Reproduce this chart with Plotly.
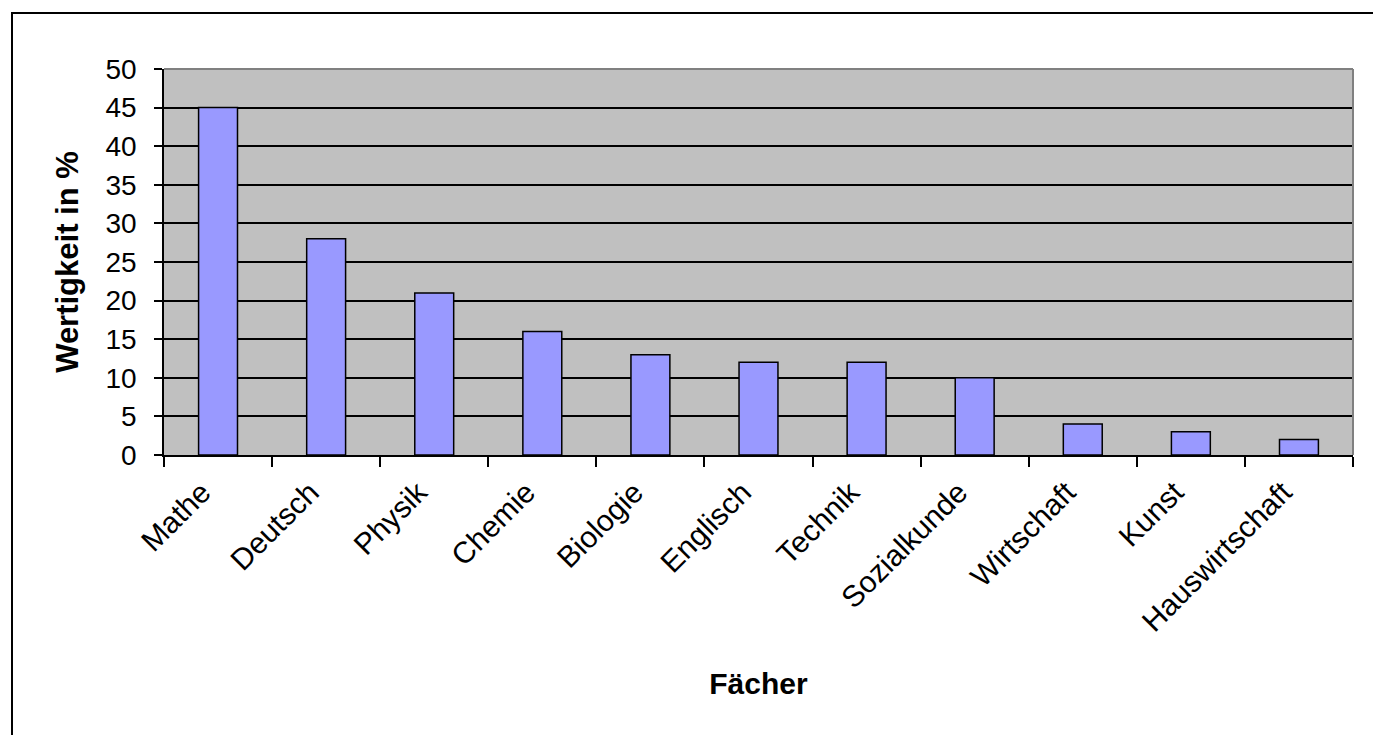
import plotly.graph_objects as go

faecher = ["Mathe", "Deutsch", "Physik", "Chemie", "Biologie", "Englisch",
           "Technik", "Sozialkunde", "Wirtschaft", "Kunst", "Hauswirtschaft"]
wertigkeit = [45, 28, 21, 16, 13, 12, 12, 10, 4, 3, 2]
y_ticks = [0, 5, 10, 15, 20, 25, 30, 35, 40, 45, 50]

W, H = 1373, 735
left, right, top, bottom = 164, 20, 69, 280
pw = W - left - right
ph = H - top - bottom

def px_x(p):
    return (p - left) / pw

def px_y(p):
    return (H - bottom - p) / ph

fig = go.Figure(go.Bar(
    x=faecher,
    y=wertigkeit,
    marker=dict(color="#9999ff", line=dict(color="#000000", width=1.5)),
))

fig.update_layout(
    width=W, height=H,
    margin=dict(l=left, r=right, t=top, b=bottom),
    paper_bgcolor="#ffffff",
    plot_bgcolor="#c0c0c0",
    bargap=0.64,
    showlegend=False,
    font=dict(family="Liberation Sans, Arial, sans-serif", color="#000000"),
    xaxis=dict(
        type="category",
        tickson="boundaries",
        ticks="outside", ticklen=10, tickwidth=1.5, tickcolor="#000000",
        tickangle=-45,
        tickfont=dict(size=30),
        ticklabelstandoff=6,
        ticklabelshift=-16,
        showline=True, linecolor="#000000", linewidth=1.5,
        showgrid=False,
        title=dict(text="<b>Fächer</b>", font=dict(size=30), standoff=36),
    ),
    yaxis=dict(
        range=[0, 50],
        tickvals=y_ticks,
        ticks="outside", ticklen=8, tickwidth=1.5, tickcolor="#000000",
        tickfont=dict(size=28),
        ticklabelstandoff=12,
        showline=True, linecolor="#000000", linewidth=1.5,
        showgrid=True, gridcolor="#000000", gridwidth=1.5,
        zeroline=False,
        title=dict(text="<b>Wertigkeit in %</b>", font=dict(size=31), standoff=18),
    ),
    shapes=[
        # gray top and right edges of the plot area
        dict(type="line", xref="paper", yref="paper", x0=0, x1=1, y0=1, y1=1,
             line=dict(color="#808080", width=2), layer="above"),
        dict(type="line", xref="paper", yref="paper", x0=1, x1=1, y0=0, y1=1,
             line=dict(color="#808080", width=2), layer="above"),
        # outer chart frame
        dict(type="rect", xref="paper", yref="paper",
             x0=px_x(12), x1=px_x(W + 20), y0=px_y(H + 20), y1=px_y(13),
             line=dict(color="#000000", width=2), fillcolor="rgba(0,0,0,0)",
             layer="above"),
    ],
)

fig.write_html("out.html")
